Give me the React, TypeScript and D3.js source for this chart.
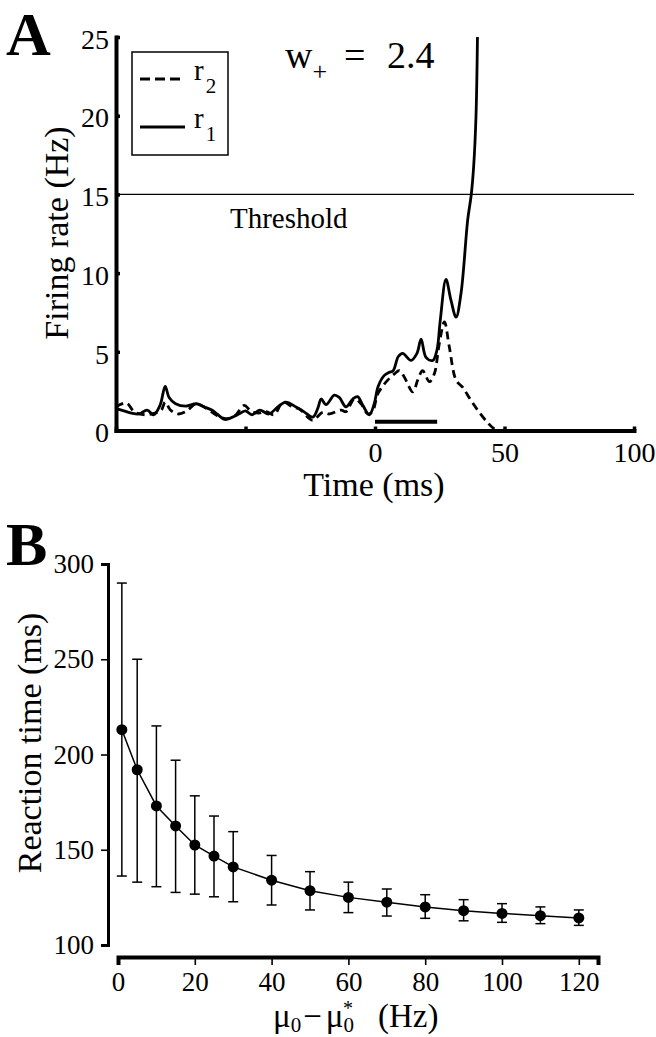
import React, { useEffect, useRef } from "react";
import * as d3 from "d3";

// Panel A: firing rates (time in ms, rate in Hz)
const r1Time = [-100, -97, -94, -91, -88, -85.5, -83, -81, -79.5, -77, -73, -69, -66, -63, -61, -58, -55, -52, -50, -47.5, -44.5, -41, -37.5, -34.5, -30.5, -27.5, -24, -22, -20.8, -18.9, -15.7, -13.8, -11.2, -8.6, -6.7, -4.7, -2.2, -0.3, 1.2, 3.6, 5.5, 7, 9, 10.7, 13.9, 16.2, 17.8, 19.7, 22.3, 23.9, 25.2, 27.4, 29.3, 31.3, 33.2, 35.8, 37.1, 38.1, 39, 39.6];
const r1Rate = [1.4, 1.25, 1.1, 1.05, 1.3, 1.0, 1.6, 2.8, 2.1, 1.7, 1.55, 1.7, 1.5, 1.3, 1.05, 0.7, 0.85, 1.1, 1.25, 1.0, 1.3, 1.05, 1.5, 1.8, 1.5, 1.2, 0.85, 1.45, 2.0, 1.65, 2.25, 2.1, 1.5, 2.0, 2.15, 1.6, 1.0, 1.7, 2.8, 3.5, 3.7, 3.8, 4.7, 4.9, 4.45, 4.9, 5.8, 4.65, 4.45, 5.1, 7.0, 9.6, 8.3, 7.2, 8.7, 13.4, 14.9, 16.8, 20, 25.5];
const r2Time = [-100, -96, -93, -89, -85, -82.5, -81, -79, -76, -73, -69, -65, -61, -57.5, -54, -50.5, -48, -45, -42, -39, -35.5, -31.8, -29, -26, -24, -20.2, -17.6, -13.1, -11.2, -8, -5.4, -2.8, -1, 1, 2.9, 4.9, 7.5, 9.4, 11.3, 14.6, 16.5, 18.4, 21, 22.9, 24.8, 26.8, 28.7, 31.3, 33.8, 37.1, 40.3, 43.5, 46.1, 48];
const r2Rate = [1.5, 1.75, 1.2, 1.0, 1.1, 1.3, 1.8, 1.3, 1.05, 1.2, 1.7, 1.4, 0.95, 0.75, 0.95, 1.6, 1.25, 1.1, 1.2, 1.0, 1.8, 1.5, 1.35, 0.85, 0.65, 1.15, 1.05, 1.3, 1.2, 2.0, 1.7, 1.05, 1.2, 2.3, 2.8, 3.2, 3.6, 3.8, 3.4, 2.45, 3.2, 3.8, 3.1, 3.6, 5.5, 6.9, 5.3, 3.2, 2.75, 1.9, 1.15, 0.5, 0.1, 0];
const threshold = 15;
const stimulus = [0, 24];
const stimLevel = 0.55;
const aYTicks = [0, 5, 10, 15, 20, 25];
const aXTicks = [-100, -50, 0, 50, 100];
const aXLabeled = [0, 50, 100];

// Panel B: reaction time vs mu0 - mu0*
const muDiff = [1, 5, 10, 15, 20, 25, 30, 40, 50, 60, 70, 80, 90, 100, 110, 120];
const rtMean = [213, 192, 173, 162.5, 152.5, 146.7, 141, 134, 128.5, 125, 122.5, 120, 118, 116.6, 115.4, 114.2];
const rtUpper = [290, 250, 215, 197, 178.3, 167.7, 159.5, 147, 138.5, 133, 129.4, 126.4, 123.8, 121.7, 120, 118.4];
const rtLower = [136.2, 133, 130.6, 127.6, 126.7, 125.3, 122.7, 121, 118.4, 117, 115.2, 114, 112.7, 111.9, 111.2, 110.3];
const bYTicks = [100, 150, 200, 250, 300];
const bXTicks = [0, 20, 40, 60, 80, 100, 120];

const FONT = "'Liberation Serif', 'Times New Roman', serif";

const App = () => {
  const svgRef = useRef<SVGSVGElement>(null);

  useEffect(() => {
    const svg = d3.select(svgRef.current);
    svg.selectAll("*").remove();
    svg.attr("font-family", FONT);

    // ---------- Panel A ----------
    const xA = d3.scaleLinear().domain([-100, 100]).range([116, 634]);
    const yA = d3.scaleLinear().domain([0, 25]).range([430.5, 37]);

    svg.append("clipPath").attr("id", "clipA")
      .append("rect").attr("x", 116).attr("y", 37).attr("width", 520).attr("height", 400);

    // threshold
    svg.append("line")
      .attr("x1", xA(-100)).attr("x2", xA(100))
      .attr("y1", yA(threshold)).attr("y2", yA(threshold))
      .attr("stroke", "#000").attr("stroke-width", 1.3);

    const r1 = r1Time.map((t, i) => [xA(t), yA(r1Rate[i])] as [number, number]);
    const r2 = r2Time.map((t, i) => [xA(t), yA(r2Rate[i])] as [number, number]);
    const trace = d3.line().curve(d3.curveCatmullRom.alpha(0.5));

    svg.append("path")
      .attr("d", trace(r2))
      .attr("fill", "none").attr("stroke", "#000").attr("stroke-width", 2.8)
      .attr("stroke-dasharray", "8,5")
      .attr("clip-path", "url(#clipA)");
    svg.append("path")
      .attr("d", trace(r1))
      .attr("fill", "none").attr("stroke", "#000").attr("stroke-width", 2.8)
      .attr("clip-path", "url(#clipA)");

    // stimulus bar
    svg.append("line")
      .attr("x1", xA(stimulus[0])).attr("x2", xA(stimulus[1]))
      .attr("y1", yA(stimLevel)).attr("y2", yA(stimLevel))
      .attr("stroke", "#000").attr("stroke-width", 4);

    // axes
    const axAy = svg.append("g")
      .attr("transform", `translate(${xA(-100)},0)`)
      .call(d3.axisLeft(yA).tickValues(aYTicks).tickSizeInner(-4).tickSizeOuter(0).tickPadding(7));
    const axAx = svg.append("g")
      .attr("transform", `translate(0,${yA(0)})`)
      .call(
        d3.axisBottom(xA).tickValues(aXTicks)
          .tickFormat((d) => (aXLabeled.includes(d as number) ? String(d) : ""))
          .tickSizeInner(-4).tickSizeOuter(0).tickPadding(12)
      );
    [axAy, axAx].forEach((g) => {
      g.select(".domain").attr("stroke-width", 4).attr("stroke-linecap", "square");
      g.selectAll(".tick line").attr("stroke-width", 3.5);
      g.selectAll("text").attr("font-size", 28).attr("font-family", FONT).attr("fill", "#000");
    });
    axAy.selectAll("text").attr("dy", "0.4em");

    // titles
    svg.append("text").attr("x", 6).attr("y", 55)
      .attr("font-size", 62).attr("font-weight", "bold").text("A");
    svg.append("text")
      .attr("transform", "translate(68,233) rotate(-90)")
      .attr("text-anchor", "middle").attr("font-size", 34).text("Firing rate (Hz)");
    svg.append("text").attr("x", 374).attr("y", 496)
      .attr("text-anchor", "middle").attr("font-size", 34).text("Time (ms)");
    svg.append("text").attr("x", 230).attr("y", 228)
      .attr("font-size", 29).text("Threshold");

    const w = svg.append("text").attr("x", 285).attr("y", 68).attr("font-size", 38);
    w.append("tspan").text("w");
    w.append("tspan").attr("font-size", 26).attr("dy", 12).text("+");
    w.append("tspan").attr("x", 344).attr("dy", -12).text("=");
    w.append("tspan").attr("x", 387).text("2.4");

    // legend
    svg.append("rect").attr("x", 132).attr("y", 52).attr("width", 96).attr("height", 103)
      .attr("fill", "none").attr("stroke", "#000").attr("stroke-width", 1.5);
    svg.append("line").attr("x1", 140).attr("x2", 185).attr("y1", 79).attr("y2", 79)
      .attr("stroke", "#000").attr("stroke-width", 2.8).attr("stroke-dasharray", "10,5");
    svg.append("line").attr("x1", 140).attr("x2", 185).attr("y1", 127).attr("y2", 127)
      .attr("stroke", "#000").attr("stroke-width", 2.8);
    [["2", 80], ["1", 128]].forEach(([sub, y]) => {
      const t = svg.append("text").attr("x", 194).attr("y", y as number).attr("font-size", 29);
      t.append("tspan").text("r");
      t.append("tspan").attr("font-size", 21).attr("dx", 2).attr("dy", 13).text(sub as string);
    });

    // ---------- Panel B ----------
    const xB = d3.scaleLinear().domain([0, 125]).range([118, 598]);
    const yB = d3.scaleLinear().domain([100, 300]).range([945, 564]);

    const axBy = svg.append("g")
      .attr("transform", "translate(108,0)")
      .call(d3.axisLeft(yB).tickValues(bYTicks).tickSize(7).tickPadding(7));
    const axBx = svg.append("g")
      .attr("transform", "translate(0,957)")
      .call(d3.axisBottom(xB).tickValues(bXTicks).tickSize(8).tickPadding(7));
    axBy.select(".domain").attr("stroke-width", 3);
    axBx.select(".domain").attr("stroke-width", 4);
    [axBy, axBx].forEach((g) => {
      g.selectAll(".tick line").attr("stroke-width", 1.6);
      g.selectAll("text").attr("font-size", 27).attr("font-family", FONT).attr("fill", "#000");
    });

    // error bars
    const eb = svg.append("g").attr("stroke", "#000").attr("stroke-width", 1.5);
    muDiff.forEach((m, i) => {
      const x = xB(m);
      eb.append("line").attr("x1", x).attr("x2", x).attr("y1", yB(rtLower[i])).attr("y2", yB(rtUpper[i]));
      eb.append("line").attr("x1", x - 5).attr("x2", x + 5).attr("y1", yB(rtLower[i])).attr("y2", yB(rtLower[i]));
      eb.append("line").attr("x1", x - 5).attr("x2", x + 5).attr("y1", yB(rtUpper[i])).attr("y2", yB(rtUpper[i]));
    });

    svg.append("path")
      .attr("d", d3.line<number>().x((d, i) => xB(muDiff[i])).y((d) => yB(d))(rtMean))
      .attr("fill", "none").attr("stroke", "#000").attr("stroke-width", 1.5);
    svg.append("g").selectAll("circle").data(rtMean).join("circle")
      .attr("cx", (d, i) => xB(muDiff[i])).attr("cy", (d) => yB(d)).attr("r", 5.5).attr("fill", "#000");

    svg.append("text").attr("x", 6).attr("y", 565)
      .attr("font-size", 62).attr("font-weight", "bold").text("B");
    svg.append("text")
      .attr("transform", "translate(41,743) rotate(-90)")
      .attr("text-anchor", "middle").attr("font-size", 34).text("Reaction time (ms)");

    const mu = svg.append("text").attr("x", 273).attr("y", 1027).attr("font-size", 33);
    mu.append("tspan").text("\u03bc");
    mu.append("tspan").attr("font-size", 21).attr("dy", 5).text("0");
    mu.append("tspan").attr("dy", -5).attr("dx", 2).text("\u2212");
    mu.append("tspan").attr("dx", 4).text("\u03bc");
    mu.append("tspan").attr("font-size", 21).attr("dy", 5).text("0");
    mu.append("tspan").attr("font-size", 20).attr("dx", -11).attr("dy", -17).text("*");
    mu.append("tspan").attr("x", 378).attr("dy", 12).text("(Hz)");
  }, []);

  return (
    <svg
      ref={svgRef}
      width={656}
      height={1037}
      style={{ position: "absolute", left: 0, top: 0, background: "#fff" }}
    ></svg>
  );
};

export default App;
